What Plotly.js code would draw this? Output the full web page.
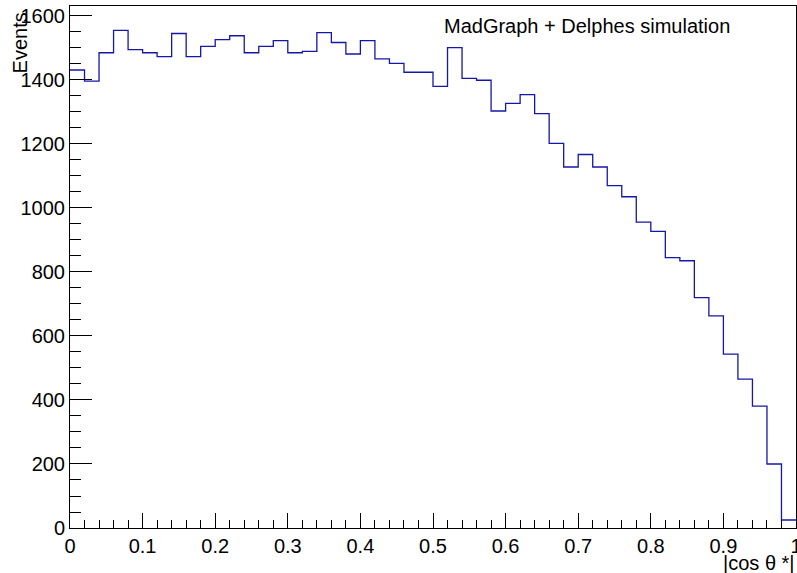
<!DOCTYPE html>
<html>
<head>
<meta charset="utf-8">
<script src="https://cdn.plot.ly/plotly-3.0.1.min.js"></script>
<style>
  html, body { margin: 0; padding: 0; background: #fff; }
  #chart { width: 797px; height: 573px; }
</style>
</head>
<body>
<div id="chart"></div>
<script>
// |cos theta*| distribution, 50 bins on [0, 1]
const binLow = 0;
const binHigh = 1;
const events = [
  1431, 1396, 1485, 1555, 1495, 1485, 1473, 1545, 1473, 1505,
  1526, 1538, 1485, 1505, 1523, 1485, 1489, 1548, 1517, 1481,
  1523, 1466, 1452, 1424, 1424, 1380, 1501, 1405, 1399, 1303,
  1327, 1354, 1295, 1202, 1128, 1167, 1128, 1070, 1035, 956,
  927, 845, 835, 720, 663, 543, 465, 381, 200, 25
];
const xTitle = '|cos \u03b8 *|';
const yTitle = 'Events';
const label = 'MadGraph + Delphes simulation';

// Bin edges for a step outline (last value repeated to close the final bin)
const nBins = events.length;
const width = (binHigh - binLow) / nBins;
const edges = [];
for (let i = 0; i <= nBins; i++) edges.push(binLow + i * width);
const stepY = events.concat([events[nBins - 1]]);

const font = { family: '"Liberation Sans", Arial, Helvetica, sans-serif', size: 20, color: '#000' };

const trace = {
  x: edges,
  y: stepY,
  type: 'scatter',
  mode: 'lines',
  line: { shape: 'hv', color: '#1616a8', width: 1.3 },
  hoverinfo: 'skip'
};

const layout = {
  width: 797,
  height: 573,
  margin: { l: 70, r: 1, t: 6, b: 45 },
  paper_bgcolor: '#fff',
  plot_bgcolor: '#fff',
  showlegend: false,
  font: font,
  xaxis: {
    range: [binLow, binHigh],
    dtick: 0.1,
    tick0: 0,
    ticks: 'inside',
    ticklen: 15,
    tickwidth: 1,
    tickcolor: '#000',
    minor: { dtick: 0.02, ticks: 'inside', ticklen: 8, tickcolor: '#000', tickwidth: 1 },
    ticklabeloverflow: 'allow',
    showline: true,
    linecolor: '#000',
    linewidth: 1,
    mirror: true,
    showgrid: false,
    zeroline: false,
    tickfont: font
  },
  yaxis: {
    range: [0, 1631],
    dtick: 200,
    tick0: 0,
    ticks: 'inside',
    ticklen: 22,
    tickwidth: 1,
    tickcolor: '#000',
    minor: { dtick: 50, ticks: 'inside', ticklen: 11, tickcolor: '#000', tickwidth: 1 },
    ticklabeloverflow: 'allow',
    showline: true,
    linecolor: '#000',
    linewidth: 1,
    mirror: true,
    showgrid: false,
    zeroline: false,
    tickfont: font
  },
  annotations: [
    {
      text: label, xref: 'paper', yref: 'paper',
      x: 0.512, y: 0.961, xanchor: 'left', yanchor: 'middle',
      showarrow: false, font: font
    },
    {
      text: yTitle, xref: 'paper', yref: 'paper', textangle: -90,
      x: -0.069, y: 0.93, xanchor: 'center', yanchor: 'middle',
      showarrow: false, font: font
    },
    {
      text: xTitle, xref: 'paper', yref: 'paper',
      x: 1.002, y: -0.067, xanchor: 'right', yanchor: 'middle',
      showarrow: false, font: font
    }
  ]
};

Plotly.newPlot('chart', [trace], layout, { staticPlot: true, displayModeBar: false });
</script>
</body>
</html>
